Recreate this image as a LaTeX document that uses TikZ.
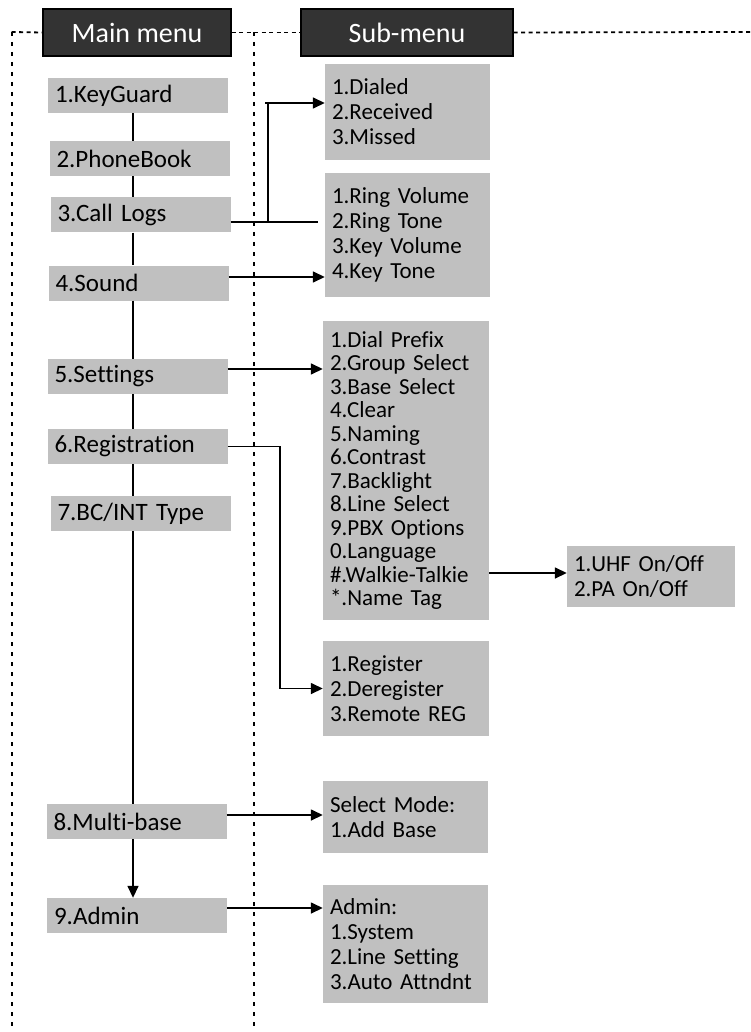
\documentclass[tikz,border=0pt]{standalone}
\usepackage{fontspec}
\setmainfont{Carlito}[Ligatures=NoCommon]
\usetikzlibrary{arrows.meta,calc}
\definecolor{boxgray}{RGB}{192,192,192}
\definecolor{hdrfill}{RGB}{51,51,51}
\begin{document}
\begin{tikzpicture}[x=1pt,y=-1pt,
  hdrbox/.style={fill=hdrfill, draw=black, line width=1.2pt, text=white, minimum height=47pt, inner sep=0pt, font=\fontsize{28}{30}\selectfont},
  mainbox/.style={fill=boxgray, minimum height=35pt, inner xsep=7pt, inner ysep=0pt, text width=166pt, align=left, font=\fontsize{25}{28}\selectfont},
  subbox/.style={fill=boxgray, inner xsep=7pt, inner ysep=0pt, align=left, font=\fontsize{23}{25}\selectfont},
  conn/.style={line width=1.5pt, draw=black},
  arr/.style={conn, -{Triangle[length=12pt,width=11pt]}},
  frameh/.style={line width=1.8pt, dash pattern=on 4pt off 3.5pt},
  framev/.style={line width=2.4pt, dash pattern=on 4pt off 6pt},
  framevm/.style={line width=1.8pt, dash pattern=on 4pt off 6pt}
]
\useasboundingbox (0,0) rectangle (751,1032);

% headers
\node[hdrbox, minimum width=188pt] (mainhdr) at (137,32.5) {Main menu};
\node[hdrbox, minimum width=212pt] (subhdr) at (407,32.5) {Sub-menu};

% frame
\coordinate (fl) at (11.7,32);
\coordinate (flb) at (11.7,1032);
\coordinate (fm) at (254,32);
\coordinate (fmb) at (254,1032);
\coordinate (fr) at (751,32);
\draw[frameh] (fl) -- (mainhdr.west);
\draw[frameh] (mainhdr.east) -- (subhdr.west);
\draw[frameh] (subhdr.east) -- (fr);
\draw[framev] (fl) -- (flb);
\draw[framevm] (fm) -- (fmb);

% main menu
\node[mainbox] (kg)  at (138,95.5)  {1.KeyGuard};
\node[mainbox] (pb)  at (139.5,158.5) {2.PhoneBook};
\node[mainbox] (cl)  at (140.5,215) {3.Call Logs};
\node[mainbox] (snd) at (138.5,283) {4.Sound};
\node[mainbox] (set) at (137.5,376.5) {5.Settings};
\node[mainbox] (reg) at (137.5,446.5) {6.Registration};
\node[mainbox] (bc)  at (140.5,513.5) {7.BC/INT Type};
\node[mainbox] (mb)  at (136.5,821.5) {8.Multi-base};
\node[mainbox] (adm) at (137,915.5) {9.Admin};

% sub menus
\node[subbox, text width=151pt, minimum height=96pt] (dialed) at (407.5,112) {1.Dialed\\2.Received\\3.Missed};
\node[subbox, text width=151pt, minimum height=124pt] (ring) at (407.5,235) {1.Ring Volume\\2.Ring Tone\\3.Key Volume\\4.Key Tone};
\node[subbox, text width=152pt, minimum height=299pt, font=\fontsize{23}{23.5}\selectfont] (setsub) at (406,470.5) {1.Dial Prefix\\2.Group Select\\3.Base Select\\4.Clear\\5.Naming\\6.Contrast\\7.Backlight\\8.Line Select\\9.PBX Options\\0.Language\\\#.Walkie-Talkie\\{*}.Name Tag};
\node[subbox, text width=154pt, minimum height=61pt] (uhf) at (651,576.5) {1.UHF On/Off\\2.PA On/Off};
\node[subbox, text width=152pt, minimum height=95pt] (register) at (406,688.5) {1.Register\\2.Deregister\\3.Remote REG};
\node[subbox, text width=151pt, minimum height=72pt] (selmode) at (405.5,817) {Select Mode:\\1.Add Base};
\node[subbox, text width=151pt, minimum height=118pt] (adminsub) at (405.5,944) {Admin:\\1.System\\2.Line Setting\\3.Auto Attndnt};

% spine
\coordinate (spine) at (133,0);
\draw[conn] (kg.south -| spine) -- (pb.north -| spine);
\draw[conn] (pb.south -| spine) -- (cl.north -| spine);
\draw[conn] (cl.south -| spine) -- (snd.north -| spine);
\draw[conn] (snd.south -| spine) -- (set.north -| spine);
\draw[conn] (set.south -| spine) -- (reg.north -| spine);
\draw[conn] (reg.south -| spine) -- (bc.north -| spine);
\draw[conn] (bc.south -| spine) -- (mb.north -| spine);
\draw[arr] (mb.south -| spine) -- (adm.north -| spine);

% call logs
\coordinate (clend) at (318,222);
\coordinate (clbr) at (268,222);
\coordinate (clx) at (265,0);
\draw[conn] ([yshift=-7pt]cl.east) -- (clend);
\draw[conn] (clbr) -- ([yshift=9pt]dialed.west -| clbr);
\draw[arr] ([yshift=9pt]dialed.west -| clx) -- ([yshift=9pt]dialed.west);

% sound
\draw[arr] ([yshift=6pt]snd.east) -- ([yshift=6pt]snd.east -| ring.west);
% settings
\draw[arr] ([yshift=7.5pt]set.east) -- ([yshift=7.5pt]set.east -| setsub.west);
% walkie talkie
\draw[arr] ([yshift=3.5pt]uhf.west -| setsub.east) -- ([yshift=3.5pt]uhf.west);
% registration
\coordinate (regx) at (280,0);
\draw[arr] (reg.east) -- (reg.east -| regx) |- (register.west);
% multi-base
\draw[arr] ([yshift=6.5pt]mb.east) -- ([yshift=6.5pt]mb.east -| selmode.west);
% admin
\draw[arr] ([yshift=7.5pt]adm.east) -- ([yshift=7.5pt]adm.east -| adminsub.west);
\end{tikzpicture}
\end{document}
